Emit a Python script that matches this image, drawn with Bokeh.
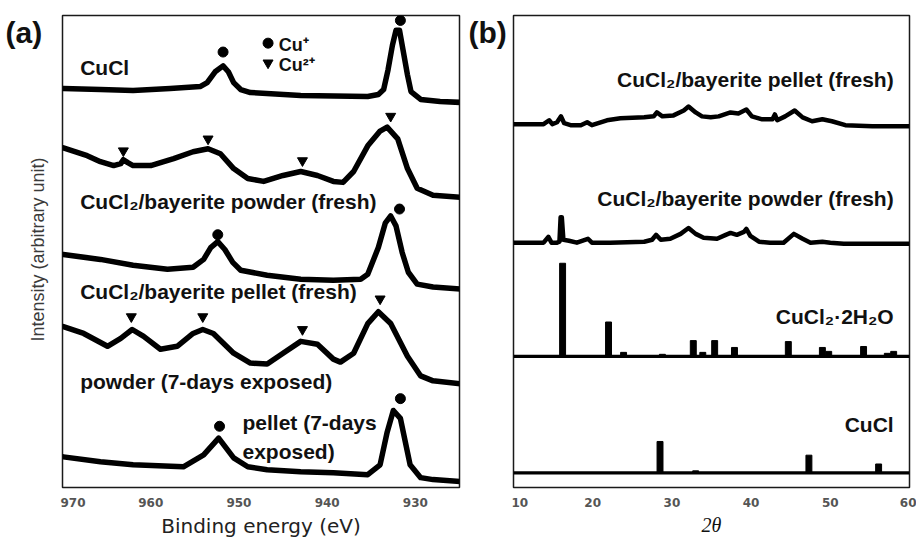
import math
from bokeh.plotting import figure
from bokeh.layouts import row
from bokeh.models import Range1d, FixedTicker, Label
from bokeh.core.properties import value
from bokeh.embed import file_html
from bokeh.resources import INLINE

# ---------------- Panel (a): XPS Cu 2p spectra (stacked, arbitrary units) ----------------
cucl_be = [969.9, 965.7, 962.0, 957.8, 954.4, 953.6, 952.7, 951.8, 951.2, 950.6, 949.8, 948.7,
           943.0, 935.4, 934.2, 933.6, 933.1, 932.6, 932.2, 931.8, 931.4, 930.9, 930.5, 929.4,
           927.2, 924.9]
cucl_int = [404, 403, 402, 404, 406, 410, 421, 427, 421, 410, 403, 400,
            397, 396, 398, 403, 423, 448, 463, 463, 443, 418, 401, 393,
            391, 390]

powder_fresh_be = [969.9, 967.2, 965.7, 964.2, 963.4, 963.1, 962.6, 962.0, 960.0, 957.4, 955.2,
                   953.5, 952.1, 950.6, 949.0, 947.2, 945.0, 943.0, 941.1, 939.3, 938.2, 937.0,
                   935.4, 934.0, 933.2, 932.0, 930.9, 929.8, 928.0, 924.9]
powder_fresh_int = [344, 336, 330, 326, 328, 332, 329, 326, 326, 333, 340,
                    343, 338, 323, 313, 310, 316, 320, 316, 310, 309, 320,
                    346, 361, 365, 353, 323, 303, 296, 294]

pellet_fresh_be = [969.9, 965.7, 962.0, 958.1, 955.2, 954.0, 953.2, 952.4, 951.6, 950.7, 949.8,
                   946.8, 943.0, 939.3, 936.2, 935.4, 934.2, 933.4, 932.8, 932.2, 931.5, 930.8,
                   929.8, 928.0, 924.9]
pellet_fresh_int = [236, 231, 225, 221, 223, 231, 243, 249, 241, 228, 220,
                    215, 211, 210, 211, 216, 243, 268, 275, 265, 238, 218,
                    206, 203, 201]

powder_7d_be = [969.9, 967.6, 964.9, 963.4, 962.1, 960.8, 958.9, 957.0, 955.2, 954.1, 952.9,
                950.6, 948.7, 946.8, 945.0, 943.0, 941.1, 939.3, 938.5, 937.0, 935.4, 934.2,
                932.8, 930.9, 929.4, 928.0, 924.9]
powder_7d_int = [163, 156, 143, 151, 160, 153, 140, 143, 156, 160, 156,
                 136, 126, 125, 136, 148, 145, 130, 127, 136, 166, 178,
                 166, 133, 113, 108, 105]

pellet_7d_be = [969.9, 965.7, 962.0, 956.3, 954.0, 952.3, 950.6, 949.0, 946.8, 943.0, 939.3,
                935.4, 934.0, 933.2, 932.5, 931.7, 930.6, 929.4, 928.0, 924.9]
pellet_7d_int = [31, 26, 23, 21, 33, 50, 30, 21, 18, 16, 15,
                 13, 23, 56, 78, 70, 23, 10, 8, 6]

# peak assignments
cu1_be = [951.8, 931.7, 952.4, 931.8, 952.2, 931.7]
cu1_int = [441, 473, 256, 282, 62, 90]
cu2_be = [963.1, 953.5, 942.8, 932.8, 962.2, 954.1, 942.8, 934.0]
cu2_int = [341, 353, 331, 376, 173, 173, 160, 191]

xps_ticks = [970, 960, 950, 940, 930]

# ---------------- Panel (b): XRD patterns (stacked, arbitrary units) ----------------
xrd_pellet_tt = [10.0, 13.8, 14.5, 14.9, 15.5, 16.0, 16.4, 17.2, 18.5, 19.3, 19.9, 21.8, 23.5,
                 26.5, 27.7, 28.1, 28.8, 30.2, 31.5, 32.1, 33.0, 33.8, 34.9, 35.9, 37.4, 38.4,
                 39.4, 40.1, 41.4, 42.7, 43.0, 43.3, 44.3, 45.5, 46.5, 47.7, 49.0, 50.2, 51.9,
                 55.3, 59.5, 60.0]
xrd_pellet_int = [371, 371, 375, 371, 373, 379, 372, 370, 370, 373, 370, 375, 377,
                  378, 379, 383, 379, 380, 385, 389, 383, 379, 378, 379, 383, 382,
                  386, 379, 376, 376, 381, 375, 379, 385, 378, 374, 376, 374, 370,
                  369, 369, 369]

xrd_powder_tt = [10.0, 13.8, 14.4, 14.8, 15.5, 15.8, 15.95, 16.1, 16.3, 17.0, 18.0, 19.4, 19.9,
                 22.2, 26.5, 27.5, 28.0, 28.6, 29.8, 31.1, 32.1, 33.0, 34.0, 35.7, 36.8, 37.4,
                 38.2, 39.1, 39.4, 39.9, 41.0, 42.4, 44.1, 45.4, 46.5, 47.5, 49.0, 50.0, 51.7,
                 55.9, 59.7, 60.0]
xrd_powder_int = [250, 250, 256, 250, 250, 251, 276, 276, 253, 252, 250, 254, 250,
                  250, 251, 253, 258, 253, 254, 259, 265, 259, 255, 254, 258, 260,
                  258, 261, 264, 257, 251, 250, 250, 259, 254, 250, 251, 250, 249,
                  249, 249, 249]

cucl2_base = 134
cucl2_peaks = [16.2, 22.0, 23.9, 28.8, 32.7, 33.9, 35.4, 37.9, 44.7, 49.0, 49.8, 54.2, 57.2, 58.0]
cucl2_heights = [229, 169, 138, 136, 150, 138, 150, 143, 149, 143, 139, 144, 137, 139]

cucl_base = 15
cucl_peaks = [28.5, 33.0, 47.3, 56.1]
cucl_heights = [47, 17, 33, 24]

xrd_ticks = [10, 20, 30, 40, 50, 60]
xrd_span = [10, 60]

ANN_FONT = "Liberation Sans"
FIG_H = 540
A_TOP = 478   # panel (a) intensity span
B_TOP = 482   # panel (b) intensity span


def style_common(p):
    p.xgrid.visible = False
    p.ygrid.visible = False
    p.outline_line_color = "#1a1a1a"
    p.outline_line_width = 1.5
    p.background_fill_color = "white"
    p.border_fill_color = "white"
    p.yaxis.visible = False
    ax = p.xaxis[0]
    ax.major_tick_line_color = None
    ax.minor_tick_line_color = None
    ax.axis_line_color = None
    ax.major_label_text_font = "DejaVu Sans"
    ax.major_label_text_font_style = "bold"
    ax.major_label_text_font_size = "12px"
    ax.major_label_text_color = "#555555"
    ax.major_label_standoff = 4


def ann(p, x, y, text, align="left", size="21px", baseline="middle"):
    p.add_layout(Label(x=x, y=y, text=text, text_align=align, text_baseline=baseline,
                       text_font=ANN_FONT, text_font_style="bold", text_font_size=size,
                       text_color="#111111"))


def side_strip(width, top, border_top, border_bottom):
    s = figure(width=width, height=FIG_H, x_range=Range1d(0, width), y_range=Range1d(0, top),
               output_backend="svg", toolbar_location=None, title=None,
               min_border_left=0, min_border_right=0,
               min_border_top=border_top, min_border_bottom=border_bottom,
               x_axis_location=None, y_axis_location=None, outline_line_color=None)
    s.grid.visible = False
    s.background_fill_color = "white"
    s.border_fill_color = "white"
    return s


# ---------------- left strip: panel tag (a) + y-axis title ----------------
stripA = side_strip(60, A_TOP, 15, 47)
stripA.text(x=[5], y=[A_TOP], text=["(a)"], text_align="left", text_baseline="top",
            text_font=value(ANN_FONT), text_font_style="bold", text_font_size="30px",
            text_color="#111111")
stripA.text(x=[37], y=[241], text=["Intensity (arbitrary unit)"], angle=math.pi / 2,
            text_align="center", text_baseline="middle",
            text_font=value("Liberation Sans"), text_font_size="18px", text_color="#3a3a3a")

# ---------------- figure (a) ----------------
pA = figure(width=402, height=FIG_H, x_range=Range1d(970, 925), y_range=Range1d(0, A_TOP),
            output_backend="svg", toolbar_location=None, title=None,
            min_border_left=2, min_border_right=3, min_border_top=15, min_border_bottom=47)
style_common(pA)
pA.xaxis.ticker = FixedTicker(ticks=xps_ticks)
pA.xaxis.axis_label = "Binding energy (eV)"
pA.xaxis.axis_label_text_font = "DejaVu Sans"
pA.xaxis.axis_label_text_font_style = "normal"
pA.xaxis.axis_label_text_font_size = "20px"
pA.xaxis.axis_label_text_color = "#222222"
pA.xaxis.axis_label_standoff = 4

for xs, ys in [(cucl_be, cucl_int), (powder_fresh_be, powder_fresh_int),
               (pellet_fresh_be, pellet_fresh_int), (powder_7d_be, powder_7d_int),
               (pellet_7d_be, pellet_7d_int)]:
    pA.line(xs, ys, line_color="black", line_width=5.5, line_join="round", line_cap="round")

pA.scatter(cu1_be, cu1_int, marker="circle", size=10, color="black")
pA.scatter(cu2_be, cu2_int, marker="inverted_triangle", size=10, color="black")
# legend
pA.scatter([946.7], [450], marker="circle", size=10, color="black")
pA.scatter([946.7], [430], marker="inverted_triangle", size=10, color="black")
ann(pA, 945.5, 448, "Cu\u207a", size="18px")
ann(pA, 945.5, 428, "Cu\u00b2\u207a", size="18px")

ann(pA, 968.0, 425, "CuCl")
ann(pA, 968.0, 290, "CuCl\u2082/bayerite powder (fresh)")
ann(pA, 968.0, 198, "CuCl\u2082/bayerite pellet (fresh)")
ann(pA, 968.0, 107, "powder (7-days exposed)")
ann(pA, 949.6, 66, "pellet (7-days")
ann(pA, 949.6, 36, "exposed)")

# ---------------- middle strip: panel tag (b) ----------------
stripB = side_strip(49, B_TOP, 15, 43)
stripB.text(x=[6], y=[B_TOP], text=["(b)"], text_align="left", text_baseline="top",
            text_font=value(ANN_FONT), text_font_style="bold", text_font_size="30px",
            text_color="#111111")

# ---------------- figure (b) ----------------
pB = figure(width=405, height=FIG_H, x_range=Range1d(10, 60), y_range=Range1d(0, B_TOP),
            output_backend="svg", toolbar_location=None, title=None,
            min_border_left=2, min_border_right=7, min_border_top=15, min_border_bottom=43)
style_common(pB)
pB.xaxis.ticker = FixedTicker(ticks=xrd_ticks)
pB.xaxis.axis_label = "2\u03b8"
pB.xaxis.axis_label_text_font = "Liberation Serif"
pB.xaxis.axis_label_text_font_style = "italic"
pB.xaxis.axis_label_text_font_size = "20px"
pB.xaxis.axis_label_text_color = "#111111"
pB.xaxis.axis_label_standoff = 4

pB.line(xrd_pellet_tt, xrd_pellet_int, line_color="black", line_width=4.5, line_join="round")
pB.line(xrd_powder_tt, xrd_powder_int, line_color="black", line_width=4.5, line_join="round")

pB.line(xrd_span, [cucl2_base, cucl2_base], line_color="black", line_width=3.2)
pB.vbar(x=cucl2_peaks, top=cucl2_heights, bottom=cucl2_base, width=0.75, color="black")
pB.line(xrd_span, [cucl_base, cucl_base], line_color="black", line_width=3.2)
pB.vbar(x=cucl_peaks, top=cucl_heights, bottom=cucl_base, width=0.75, color="black")

ann(pB, 58.0, 417, "CuCl\u2082/bayerite pellet (fresh)", align="right")
ann(pB, 58.0, 295, "CuCl\u2082/bayerite powder (fresh)", align="right")
ann(pB, 58.0, 175, "CuCl\u2082\u00b72H\u2082O", align="right")
ann(pB, 58.0, 64, "CuCl", align="right")

layout = row(stripA, pA, stripB, pB)
open("out.html", "w").write(file_html(layout, INLINE))
